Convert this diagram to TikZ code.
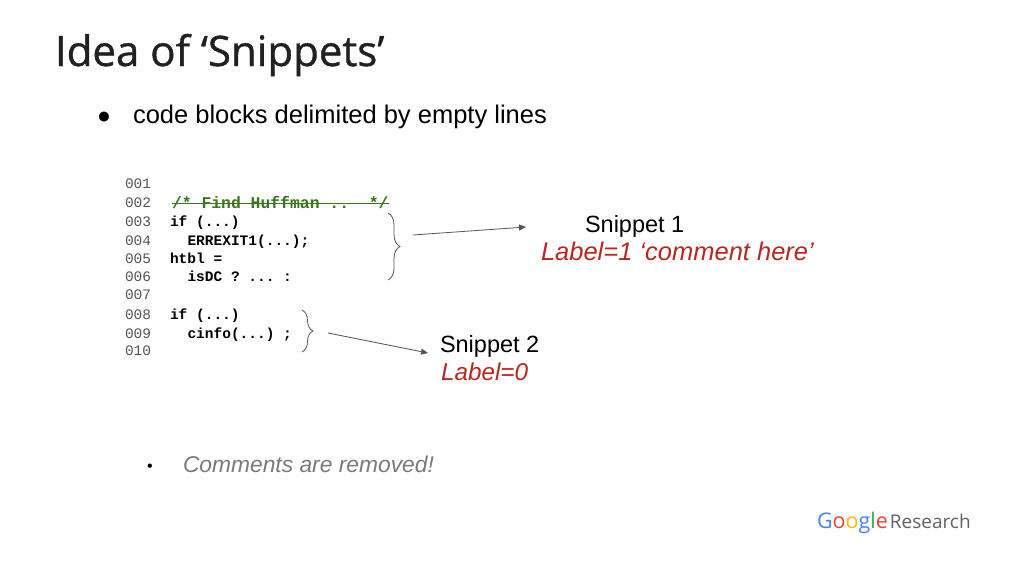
\documentclass[tikz,border=0pt]{standalone}
\usepackage{fontspec}
\setmainfont{Liberation Sans}
\setmonofont{Liberation Mono}
\newfontfamily\titlefont[FakeBold=0.9]{Open Sans}
\newfontfamily\logofont{Open Sans}
\usetikzlibrary{decorations.pathreplacing,arrows.meta}
\definecolor{titlegray}{HTML}{212121}
\definecolor{numgray}{HTML}{555555}
\definecolor{cmtgreen}{HTML}{38761D}
\definecolor{lblred}{HTML}{B7281E}
\definecolor{lightgray}{HTML}{7A7A7A}
\definecolor{linegray}{HTML}{555555}
\definecolor{gblue}{HTML}{4285F4}
\definecolor{gred}{HTML}{EA4335}
\definecolor{gyellow}{HTML}{FBBC05}
\definecolor{ggreen}{HTML}{34A853}
\definecolor{rgray}{HTML}{5F6368}
\begin{document}
\begin{tikzpicture}[x=1pt,y=-1pt,
  txt/.style={anchor=base west,inner sep=0pt,outer sep=0pt},
  numtxt/.style={txt,font=\fontsize{14.5}{16}\selectfont\ttfamily,text=numgray},
  codetxt/.style={txt,font=\fontsize{14.5}{16}\selectfont\ttfamily\bfseries,text=black},
  bracestyle/.style={draw=linegray,line width=0.8pt,decorate,decoration={brace,amplitude=#1}},
  arr/.style={draw=linegray,line width=0.8pt,-{Triangle[length=7pt,width=6pt]}},
  snip/.style={txt,font=\fontsize{23.5}{28}\selectfont,text=black}
]
\useasboundingbox (0,0) rectangle (1024,576);
\fill[white] (0,0) rectangle (1024,576);
% title
\node[txt,font=\titlefont\fontsize{42}{48}\selectfont,text=titlegray] (title) at (55,66) {Idea of ‘Snippets’};
% bullet
\node[txt,font=\fontsize{23}{28}\selectfont] (b1dot) at (97,123) {●};
\node[txt,font=\fontsize{25.5}{30}\selectfont] (b1) at (133,123) {code blocks delimited by empty lines};
% line numbers
\foreach \n/\y in {001/188.5,002/207.8,003/226.8,004/245.2,005/263.5,006/281.8,007/299.5,008/319.5,009/338.5,010/355.5}{
  \node[numtxt] (n\n) at (125,\y) {\n};
}
% code
\node[txt,font=\fontsize{16.4}{18}\selectfont\ttfamily\bfseries,text=cmtgreen] (cmt) at (172,208) {/*\ Find\ Huffman\ ..\ \ */};
\draw[cmtgreen,line width=0.9pt] ([yshift=4.2pt]cmt.base west) -- ([yshift=4.2pt]cmt.base east);
\node[codetxt] (c3) at (170,226.8) {if (...)};
\node[codetxt] (c4) at (187.5,245.2) {ERREXIT1(...);};
\node[codetxt] (c5) at (170,263.5) {htbl =};
\node[codetxt] (c6) at (187.5,281.8) {isDC ? ... :};
\node[codetxt] (c8) at (170,319.5) {if (...)};
\node[codetxt] (c9) at (187.5,338.5) {cinfo(...) ;};
% braces
\coordinate (br1top) at (388,213);
\coordinate (br1bot) at (388,280);
\coordinate (br1tip) at (413,235);
\draw[bracestyle=12pt] (br1top) -- (br1bot);
\coordinate (br2top) at (302,310);
\coordinate (br2bot) at (302,352);
\coordinate (br2tip) at (328,333);
\draw[bracestyle=11pt] (br2top) -- (br2bot);
% labels
\node[snip] (s1) at (585,232) {Snippet 1};
\node[txt,font=\fontsize{25.5}{30}\selectfont\itshape,text=lblred] (l1) at (541,260) {Label=1 ‘comment here’};
\node[snip] (s2) at (440,352) {Snippet 2};
\node[txt,font=\fontsize{24.3}{28}\selectfont\itshape,text=lblred] (l2) at (441,380) {Label=0};
\coordinate (a1end) at (526,227);
\coordinate (a2end) at (428,353);
\draw[arr] (br1tip) -- (a1end);
\draw[arr] (br2tip) -- (a2end);
% second bullet
\node[txt,font=\fontsize{16}{20}\selectfont] (b2dot) at (147,471) {•};
\node[txt,font=\fontsize{22.8}{27}\selectfont\itshape,text=lightgray] (b2) at (183,472) {Comments are removed!};
% logo
\node[txt,font=\logofont\fontsize{21.5}{24}\selectfont] (logo) at (817,528) {\textcolor{gblue}{G}\textcolor{gred}{o}\textcolor{gyellow}{o}\textcolor{gblue}{g}\textcolor{ggreen}{l}\textcolor{gred}{e}\hspace{2pt}{\fontsize{19}{22}\selectfont\textcolor{rgray}{Research}}};
\end{tikzpicture}
\end{document}
